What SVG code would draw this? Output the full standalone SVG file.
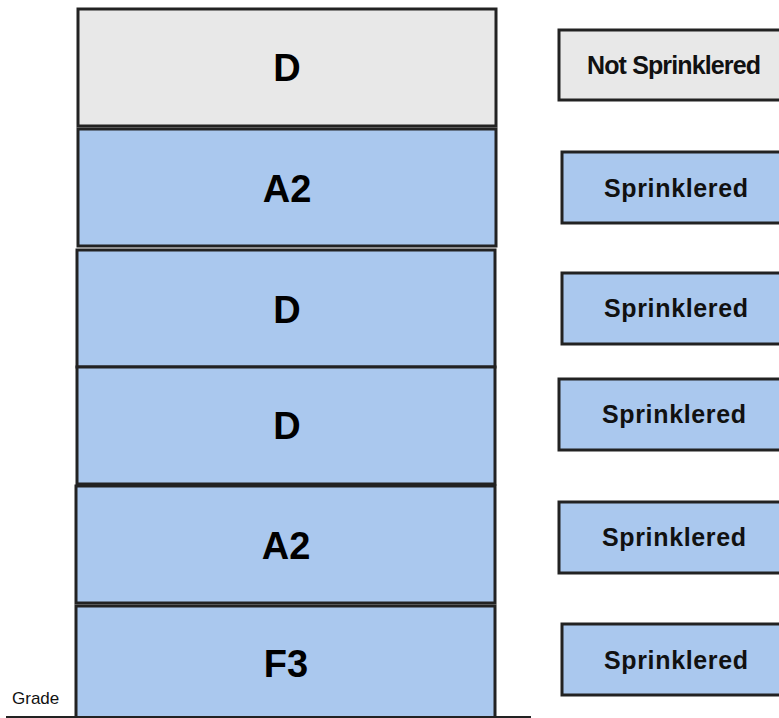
<svg xmlns="http://www.w3.org/2000/svg" width="779" height="718" viewBox="0 0 779 718">
<style>
.floor{stroke:#222;stroke-width:3}
.gray{fill:#e8e8e8}
.blue{fill:#aac8ee}
.big{font-family:"Liberation Sans",Arial,sans-serif;font-weight:bold;font-size:38px;fill:#000;text-anchor:middle}
.tag{font-family:"Liberation Sans",Arial,sans-serif;font-weight:bold;font-size:25px;fill:#111;text-anchor:middle}
.small{font-family:"Liberation Sans",Arial,sans-serif;font-size:17px;fill:#111}
</style>
<rect width="779" height="718" fill="#fff"/>
<g id="floor6"><rect class="floor gray" x="78" y="9" width="418" height="117"/><text class="big" x="287" y="81">D</text></g>
<g id="floor5"><rect class="floor blue" x="78" y="129" width="418" height="117"/><text class="big" x="287" y="202">A2</text></g>
<g id="floor4"><rect class="floor blue" x="77" y="250" width="418" height="117"/><text class="big" x="287" y="323">D</text></g>
<g id="floor3"><rect class="floor blue" x="77" y="367" width="418" height="117"/><text class="big" x="287" y="439">D</text></g>
<g id="floor2"><rect class="floor blue" x="76" y="486" width="419" height="117"/><text class="big" x="286" y="559">A2</text></g>
<g id="floor1"><rect class="floor blue" x="76" y="606" width="419" height="112"/><text class="big" x="286" y="677">F3</text></g>
<g id="grade"><line x1="6" y1="717" x2="531" y2="717" stroke="#222" stroke-width="2"/><text class="small" x="12" y="704">Grade</text></g>
<g id="tag6"><rect class="floor gray" x="559" y="30" width="240" height="70"/><text class="tag" x="674" y="74" font-size="22" textLength="174">Not Sprinklered</text></g>
<g id="tag5"><rect class="floor blue" x="562" y="152" width="240" height="71"/><text class="tag" x="676" y="197" textLength="144">Sprinklered</text></g>
<g id="tag4"><rect class="floor blue" x="562" y="273" width="240" height="71"/><text class="tag" x="676" y="317" textLength="144">Sprinklered</text></g>
<g id="tag3"><rect class="floor blue" x="559" y="379" width="240" height="71"/><text class="tag" x="674" y="423" textLength="144">Sprinklered</text></g>
<g id="tag2"><rect class="floor blue" x="559" y="502" width="240" height="71"/><text class="tag" x="674" y="546" textLength="144">Sprinklered</text></g>
<g id="tag1"><rect class="floor blue" x="562" y="624" width="240" height="71"/><text class="tag" x="676" y="669" textLength="144">Sprinklered</text></g>
<g id="connectors"></g>
</svg>
